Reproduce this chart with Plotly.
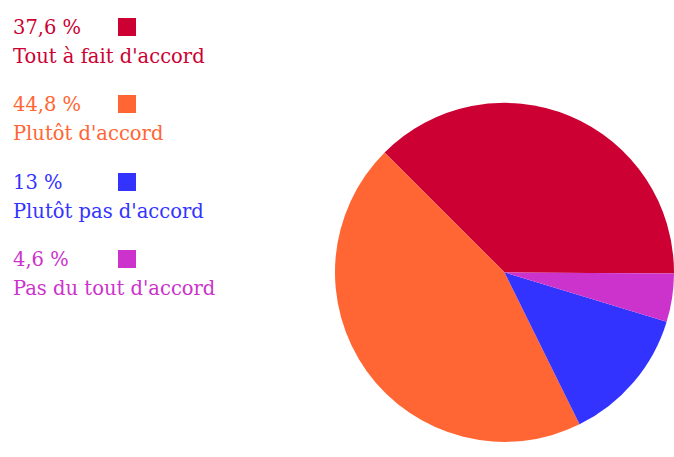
import plotly.graph_objects as go

# Survey answers and their shares (%)
labels = ["Tout à fait d'accord", "Plutôt d'accord", "Plutôt pas d'accord", "Pas du tout d'accord"]
shares = [37.6, 44.8, 13.0, 4.6]
share_text = ["37,6 %", "44,8 %", "13 %", "4,6 %"]
colors = ["#CC0033", "#FF6633", "#3333FF", "#CC33CC"]

W, H = 674, 457
FONT = "DejaVu Serif, Liberation Serif, serif"

fig = go.Figure(
    go.Pie(
        labels=labels,
        values=shares,
        sort=False,
        direction="counterclockwise",
        rotation=-45,
        marker=dict(colors=colors, line=dict(width=0)),
        textinfo="none",
        hoverinfo="label+percent",
        showlegend=False,
        domain=dict(x=[0.497, 1.0], y=[0.018, 0.79]),
    )
)

# Hand-built legend on the left: share, colour square, then the answer text
row_top = [27, 104, 182, 259]
annotations = []
shapes = []
for i, (lab, pct, col) in enumerate(zip(labels, share_text, colors)):
    y0 = row_top[i]
    annotations.append(dict(
        text=pct, x=11 / W, y=1 - y0 / H, xref="paper", yref="paper",
        xanchor="left", yanchor="middle", showarrow=False,
        font=dict(family=FONT, size=19.5, color=col),
    ))
    annotations.append(dict(
        text=lab, x=11 / W, y=1 - (y0 + 29) / H, xref="paper", yref="paper",
        xanchor="left", yanchor="middle", showarrow=False,
        font=dict(family=FONT, size=19.5, color=col),
    ))
    shapes.append(dict(
        type="rect", xref="paper", yref="paper",
        x0=118 / W, x1=136 / W, y0=1 - (y0 - 9) / H, y1=1 - (y0 + 9) / H,
        fillcolor=col, line=dict(width=0),
    ))

fig.update_layout(
    width=W, height=H,
    margin=dict(l=0, r=0, t=0, b=0),
    paper_bgcolor="white",
    plot_bgcolor="white",
    annotations=annotations,
    shapes=shapes,
)

fig.write_html("out.html")
